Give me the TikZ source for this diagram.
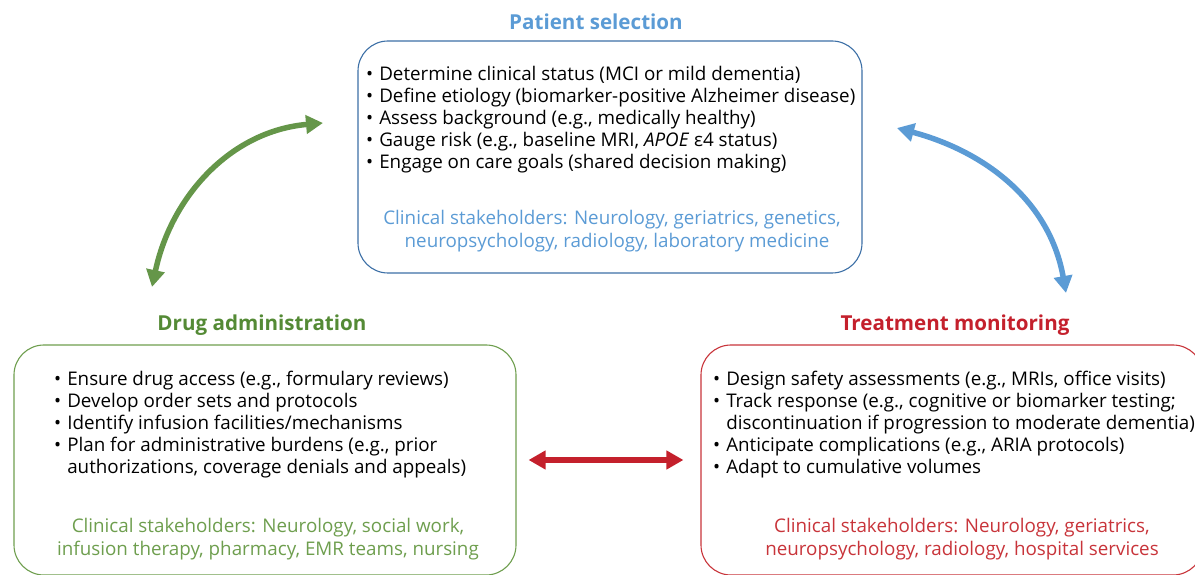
\documentclass[tikz,border=0pt]{standalone}
\usepackage{fontspec}
\setmainfont{Open Sans}
\usetikzlibrary{arrows.meta}

\definecolor{selblue}{HTML}{5B9BD5}
\definecolor{selline}{HTML}{3C6FA6}
\definecolor{admgreen}{HTML}{548A35}
\definecolor{admlight}{HTML}{6E9E4E}
\definecolor{monred}{HTML}{C4202C}
\definecolor{monlight}{HTML}{C8343A}

% bullet list set as a two column table
\newcommand{\bul}{\textbullet}
\newenvironment{bullets}{\fontsize{18.8}{22}\selectfont\begin{tabular}{@{}l@{\hspace{6pt}}l@{}}}{\end{tabular}}

\begin{document}
\begin{tikzpicture}[x=1pt,y=1pt,
    stage/.style={draw, rounded corners=30pt, line width=1.1pt,
        minimum width=502pt, minimum height=230pt},
    heading/.style={font=\fontsize{20.6}{24}\selectfont\bfseries},
    items/.style={anchor=north west, inner sep=0pt, align=left},
    people/.style={align=center, inner sep=0pt,
        font=\fontsize{18.8}{23}\selectfont},
    cycle/.style={<->, line width=5.5pt,
        >={Triangle[length=17pt,width=18pt]}}]
\clip (0,0) rectangle (1195,575);

% the three boxes
\node[stage, draw=selline, minimum width=504pt, minimum height=232pt] (select) at (610,418) {};
\node[stage, draw=admlight] (admin) at (265,115) {};
\node[stage, draw=monlight] (monitor) at (952,115) {};

% headings above the boxes
\node[heading, text=selblue]  (selecttitle)  at (596,553) {Patient selection};
\node[heading, text=admgreen] (admintitle)   at (262,250) {Drug administration};
\node[heading, text=monred]   (monitortitle) at (955,250) {Treatment monitoring};

% patient selection
\node[items] (selectlist) at (366,510) {\begin{bullets}
\bul & Determine clinical status (MCI or mild dementia)\\
\bul & Define etiology (biomarker-positive Alzheimer disease)\\
\bul & Assess background (e.g., medically healthy)\\
\bul & Gauge risk (e.g., baseline MRI, \textit{APOE} ε4 status)\\
\bul & Engage on care goals (shared decision making)
\end{bullets}};
\node[people, text=selblue] (selectpeople) at (612,344)
    {Clinical stakeholders: Neurology, geriatrics, genetics,\\
    \hspace{10pt}neuropsychology, radiology, laboratory medicine};

% drug administration
\node[items] (adminlist) at (54,205) {\begin{bullets}
\bul & Ensure drug access (e.g., formulary reviews)\\
\bul & Develop order sets and protocols\\
\bul & Identify infusion facilities/mechanisms\\
\bul & Plan for administrative burdens (e.g., prior\\
     & authorizations, coverage denials and appeals)
\end{bullets}};
\node[people, text=admlight] (adminpeople) at (268,36)
    {Clinical stakeholders: Neurology, social work,\\
    infusion therapy, pharmacy, EMR teams, nursing};

% treatment monitoring
\node[items] (monitorlist) at (713,205) {\begin{bullets}
\bul & Design safety assessments (e.g., MRIs, office visits)\\
\bul & Track response (e.g., cognitive or biomarker testing;\\
     & discontinuation if progression to moderate dementia)\\
\bul & Anticipate complications (e.g., ARIA protocols)\\
\bul & Adapt to cumulative volumes
\end{bullets}};
\node[people, text=monlight] (monitorpeople) at (962,36)
    {Clinical stakeholders: Neurology, geriatrics,\\
    neuropsychology, radiology, hospital services};

% ends of the curved arrows
\coordinate (greenlow)  at (152,288);
\coordinate (greenhigh) at (323,452);
\coordinate (bluehigh)  at (897,447);
\coordinate (bluelow)   at (1066,282);

% arrows between the stages
\draw[cycle, admgreen!90!white] (greenlow) to[out=78,in=185] (greenhigh);
\draw[cycle, selblue] (bluehigh) to[out=-15,in=100] (bluelow);
\draw[cycle, monred, shorten <=12pt, shorten >=17pt] (admin.east) -- (monitor.west);

\end{tikzpicture}
\end{document}
